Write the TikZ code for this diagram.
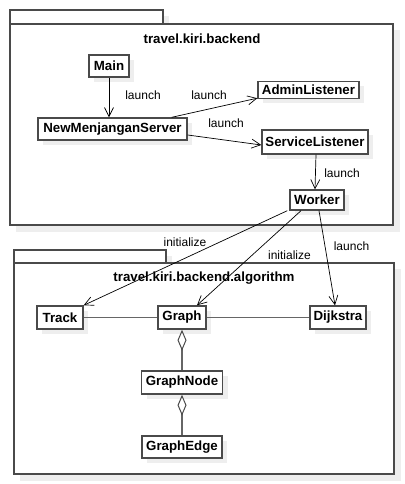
\documentclass[tikz,border=0pt]{standalone}
\usepackage{fontspec}
\setmainfont{Liberation Sans}
\usetikzlibrary{arrows.meta,shadows}
\definecolor{bord}{HTML}{4A4A4A}
\definecolor{shad}{HTML}{EEEEEE}
\definecolor{assoc}{HTML}{666666}
\begin{document}
\begin{tikzpicture}[x=1pt,y=-1pt,
  cls/.style={draw=bord, line width=1.4pt, fill=white, inner sep=0pt,
    font=\fontsize{13.3}{15}\selectfont\bfseries,
    general shadow={fill=shad, shadow xshift=5pt, shadow yshift=-5pt}},
  ttl/.style={font=\fontsize{13.3}{15}\selectfont\bfseries, inner sep=0pt},
  lbl/.style={font=\fontsize{12}{14}\selectfont, inner sep=0pt},
  dep/.style={-{Straight Barb[length=9pt,width=9pt]}, line width=0.7pt, black},
  asc/.style={assoc, line width=1.5pt},
  pkg/.style={draw=bord, line width=1.4pt, fill=white}]
\useasboundingbox (0,0) rectangle (404,484);
\fill[white] (0,0) rectangle (404,484);
% top package
\fill[shad] (16,30) rectangle (400,232);
\fill[shad] (16,16) rectangle (169,30);
\draw[pkg] (10,10) rectangle (163,24);
\draw[pkg] (10,24) rectangle (393,225);
\node[ttl] (t1) at (202,39) {travel.kiri.backend};
% bottom package
\fill[shad] (20,269) rectangle (401,481);
\fill[shad] (20,256) rectangle (172,269);
\draw[pkg] (14,250) rectangle (166,263);
\draw[pkg] (14,263) rectangle (394,474);
\node[ttl] (t2) at (204,278) {travel.kiri.backend.algorithm};
% classes
\node[cls, minimum width=40pt, minimum height=22pt] (main) at (109,66) {Main};
\node[cls, minimum width=101pt, minimum height=17pt] (admin) at (308.5,90) {AdminListener};
\node[cls, minimum width=149pt, minimum height=22pt] (nms) at (112.5,129) {NewMenjanganServer};
\node[cls, minimum width=106pt, minimum height=24pt] (sl) at (315,142) {ServiceListener};
\node[cls, minimum width=54pt, minimum height=20pt] (worker) at (317,200) {Worker};
\node[cls, minimum width=46pt, minimum height=23pt] (track) at (60,317.5) {Track};
\node[cls, minimum width=48pt, minimum height=23pt] (graph) at (182,317.5) {Graph};
\node[cls, minimum width=56pt, minimum height=23pt] (dijk) at (338,317.5) {Dijkstra};
\node[cls, minimum width=81pt, minimum height=23pt] (gnode) at (182,382.5) {GraphNode};
\node[cls, minimum width=80pt, minimum height=22pt] (gedge) at (182,447) {GraphEdge};
% associations
\draw[asc] (track) -- (graph);
\draw[asc] (graph) -- (dijk);
\draw[asc, {Diamond[open,length=21pt,width=9pt,line width=1pt,color=bord]}-] (graph.south) -- (gnode.north);
\draw[asc, {Diamond[open,length=21pt,width=9pt,line width=1pt,color=bord]}-] (gnode.south) -- (gedge.north);
% dependencies
\draw[dep] (main.south) -- (main.south |- nms.north);
\draw[dep] ([xshift=-16pt]nms.north east) -- ([yshift=1pt]admin.south west);
\draw[dep] ([yshift=-6pt]nms.east) -- ([yshift=-3pt]sl.west);
\draw[dep] ([xshift=1pt]sl.south) -- (sl.south |- worker.north);
\draw[dep] ([xshift=-2pt]worker.south west) -- (track.north east);
\draw[dep] ([xshift=-16pt]worker.south) -- ([xshift=15pt]graph.north);
\draw[dep] ([xshift=2pt]worker.south) -- ([xshift=-3pt]dijk.north);
% labels
\node[lbl] (l1) at (143,95) {launch};
\node[lbl] (l2) at (209,95) {launch};
\node[lbl] (l3) at (226,123) {launch};
\node[lbl] (l4) at (342,173) {launch};
\node[lbl] (l5) at (185,242) {initialize};
\node[lbl] (l6) at (289.5,255) {initialize};
\node[lbl] (l7) at (351.5,246) {launch};
\end{tikzpicture}
\end{document}
